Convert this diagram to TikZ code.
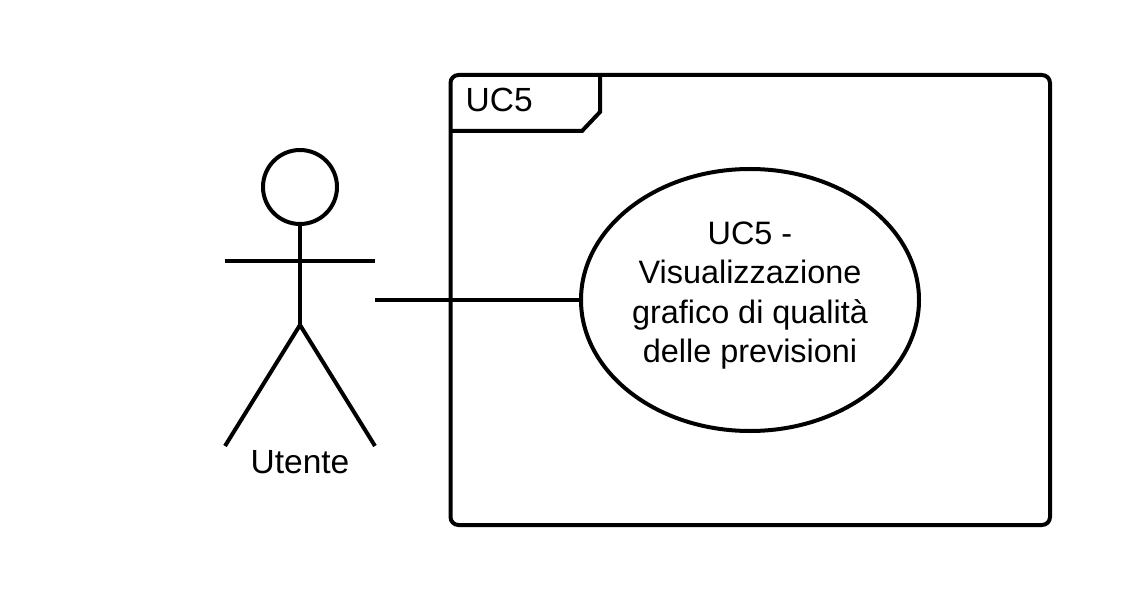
\documentclass[tikz,border=0pt]{standalone}
\usepackage{fontspec}
\setmainfont{Liberation Sans}
\usetikzlibrary{%
    shapes,%
    positioning,%
    calc%
}
\tikzset{
    stroke/.style = {line width = 4bp, black},
    usecase/.style = {draw, stroke, ellipse, inner sep = 0pt, minimum width = 338bp, minimum height = 262bp},
    ucname/.style = {inner sep = 0pt, align = center, font = \fontsize{32.4bp}{39.4bp}\selectfont},
    caption/.style = {inner sep = 0pt, font = \fontsize{33.5bp}{39.4bp}\selectfont}
}

\begin{document}
\begin{tikzpicture}[x=1bp,y=-1bp]
    \useasboundingbox (0,0) rectangle (1125,600);
    \coordinate (framenw) at (450.5,75);
    \coordinate (framese) at (1050,525);
    \coordinate (tabe) at (600,75);
    \coordinate (tabs) at (450.5,131);
    \node (uc) [usecase] at (750,300) {};
    \node (ucname) [ucname] at (750,295.5) {UC5 -\\Visualizzazione\\grafico di qualità\\delle previsioni};
    \node (head) [draw, stroke, circle, inner sep = 0pt, minimum size = 74bp] at (300,187) {};
    \coordinate (hip) at (300,325);
    \coordinate (armw) at (225,261);
    \coordinate (arme) at (375,261);
    \coordinate (footw) at (225,446);
    \coordinate (foote) at (375,446);
    \coordinate (assoc) at (375,300);
    \draw[stroke, rounded corners=8bp] (framenw) rectangle (framese);
    \draw[stroke] (tabe) -- (600,112) -- (582,131) -- (tabs);
    \draw[stroke] (head.south) -- (hip);
    \draw[stroke] (armw) -- (arme);
    \draw[stroke] (footw) -- (hip) -- (foote);
    \draw[stroke] (assoc) -- (uc.west);
    \node (tablabel) [caption, anchor = base west] at (465.5,111.5) {UC5};
    \node (actor) [caption, anchor = base] at (300,473.5) {Utente};
\end{tikzpicture}
\end{document}
